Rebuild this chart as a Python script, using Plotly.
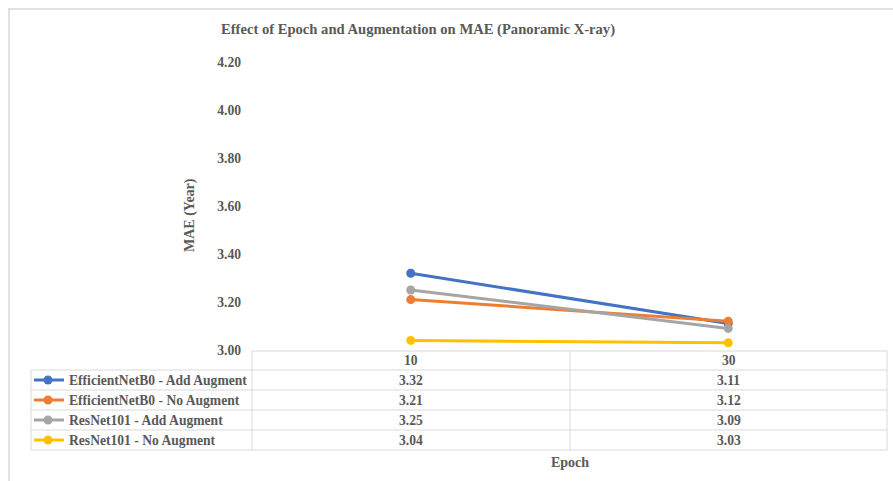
import plotly.graph_objects as go

epochs = ["10", "30"]
series_names = [
    "EfficientNetB0 - Add Augment",
    "EfficientNetB0 - No Augment",
    "ResNet101 - Add Augment",
    "ResNet101 - No Augment",
]
effnet_add = [3.32, 3.11]
effnet_no = [3.21, 3.12]
resnet_add = [3.25, 3.09]
resnet_no = [3.04, 3.03]
series_values = [effnet_add, effnet_no, resnet_add, resnet_no]
colors = ["#4472C4", "#ED7D31", "#A5A5A5", "#FFC000"]

W, H = 893, 481
L, R, T, B = 252, 887, 62, 350  # plot area in pixels
FONT = "Liberation Serif"
GRAY = "#595959"
BORDER = "#D9D9D9"


def X(px):
    return (px - L) / (R - L)


def Y(py):
    return (B - py) / (B - T)


fig = go.Figure()
for name, vals, c in zip(series_names, series_values, colors):
    fig.add_trace(go.Scatter(
        x=epochs, y=vals, name=name, mode="lines+markers",
        line=dict(color=c, width=3), marker=dict(color=c, size=9),
        showlegend=False, cliponaxis=False,
    ))

shapes = []
annotations = []

# outer chart border
shapes.append(dict(type="line", xref="paper", yref="paper", x0=X(8), x1=X(893), y0=Y(9), y1=Y(9),
                   line=dict(color=BORDER, width=1.5)))
shapes.append(dict(type="line", xref="paper", yref="paper", x0=X(9), x1=X(9), y0=Y(8), y1=Y(481),
                   line=dict(color=BORDER, width=1.5)))

# data table grid
tab_left, val_left, mid, tab_right = 31, 252, 570, 887
row_y = [351, 370, 390, 410, 430, 450]


def hline(x0, x1, y):
    shapes.append(dict(type="line", xref="paper", yref="paper", x0=X(x0), x1=X(x1), y0=Y(y), y1=Y(y),
                       line=dict(color=BORDER, width=1)))


def vline(x, y0, y1):
    shapes.append(dict(type="line", xref="paper", yref="paper", x0=X(x), x1=X(x), y0=Y(y0), y1=Y(y1),
                       line=dict(color=BORDER, width=1)))


hline(val_left, tab_right, row_y[0])
for y in row_y[1:]:
    hline(tab_left, tab_right, y)
vline(val_left, row_y[0], row_y[-1])
vline(mid, row_y[0], row_y[-1])
vline(tab_right, row_y[0], row_y[-1])
vline(tab_left, row_y[1], row_y[-1])

col_centers = [(val_left + mid) / 2, (mid + tab_right) / 2]
cell_font = dict(family=FONT, size=13.6, color=GRAY)

# header row
for cx, ep in zip(col_centers, epochs):
    annotations.append(dict(x=X(cx), y=Y((row_y[0] + row_y[1]) / 2), xref="paper", yref="paper",
                            text=f"<b>{ep}</b>", showarrow=False, font=cell_font,
                            xanchor="center", yanchor="middle"))

# data rows with legend keys
for i, (name, vals, c) in enumerate(zip(series_names, series_values, colors)):
    cy = (row_y[i + 1] + row_y[i + 2]) / 2
    shapes.append(dict(type="line", xref="paper", yref="paper", x0=X(34), x1=X(64), y0=Y(cy), y1=Y(cy),
                       line=dict(color=c, width=3)))
    r = 4.5
    shapes.append(dict(type="circle", xref="paper", yref="paper", x0=X(48 - r), x1=X(48 + r),
                       y0=Y(cy + r), y1=Y(cy - r), fillcolor=c, line=dict(color=c, width=0)))
    annotations.append(dict(x=X(67), y=Y(cy), xref="paper", yref="paper", text=f"<b>{name}</b>",
                            showarrow=False, font=cell_font, xanchor="left", yanchor="middle"))
    for cx, v in zip(col_centers, vals):
        annotations.append(dict(x=X(cx), y=Y(cy), xref="paper", yref="paper", text=f"<b>{v:.2f}</b>",
                                showarrow=False, font=cell_font, xanchor="center", yanchor="middle"))

# titles
annotations.append(dict(x=X(418), y=Y(30), xref="paper", yref="paper",
                        text="<b>Effect of Epoch and Augmentation on MAE (Panoramic X-ray)</b>",
                        showarrow=False, font=dict(family=FONT, size=14.6, color=GRAY),
                        xanchor="center", yanchor="middle"))
annotations.append(dict(x=X(190), y=Y(215), xref="paper", yref="paper", text="<b>MAE (Year)</b>",
                        showarrow=False, textangle=-90, font=dict(family=FONT, size=14, color=GRAY),
                        xanchor="center", yanchor="middle"))
annotations.append(dict(x=X(570), y=Y(462), xref="paper", yref="paper", text="<b>Epoch</b>",
                        showarrow=False, font=dict(family=FONT, size=14, color=GRAY),
                        xanchor="center", yanchor="middle"))

fig.update_layout(
    width=W, height=H,
    margin=dict(l=L, r=W - R, t=T, b=H - B, pad=0),
    paper_bgcolor="white", plot_bgcolor="white",
    shapes=shapes, annotations=annotations,
    xaxis=dict(type="category", range=[-0.5, 1.5], showticklabels=False, showgrid=False,
               zeroline=False, showline=False, ticks=""),
    yaxis=dict(range=[3.0, 4.2], dtick=0.2, tick0=3.0, tickformat=".2f", showgrid=False,
               zeroline=False, showline=False, ticks="", ticklabelstandoff=10,
               tickfont=dict(family=FONT, size=13.6, color=GRAY, weight="bold")),
)

fig.write_html("out.html")
